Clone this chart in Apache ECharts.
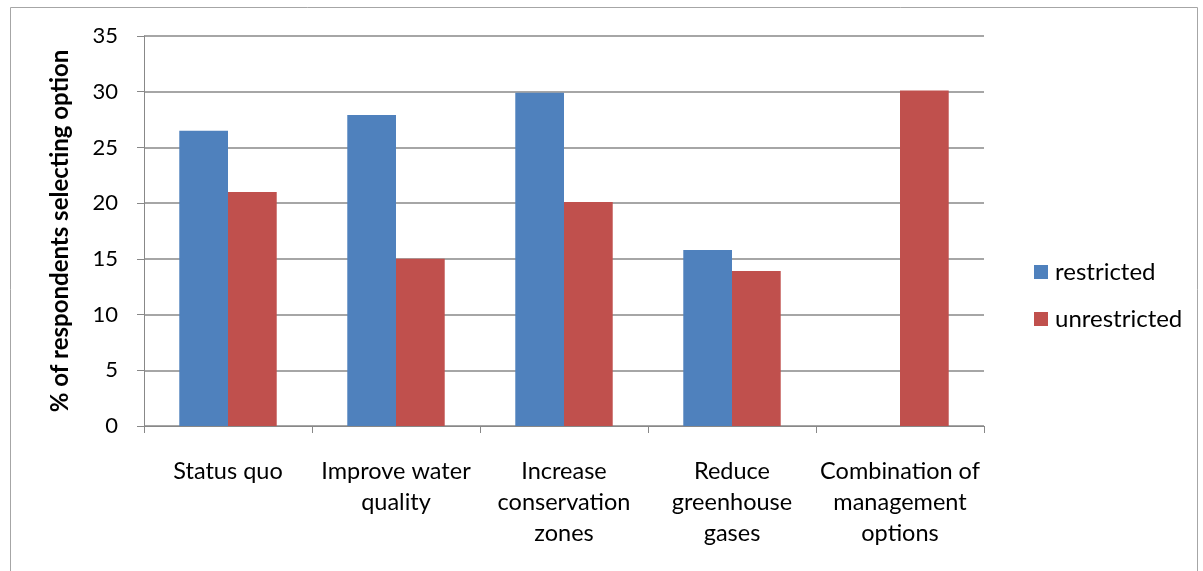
<!DOCTYPE html>
<html>
<head>
<meta charset="utf-8">
<script src="https://cdn.jsdelivr.net/npm/echarts@6/dist/echarts.min.js"></script>
<style>
html,body{margin:0;padding:0;background:#fff;}
#c{width:1203px;height:571px;}
</style>
</head>
<body>
<div id="c"></div>
<script>
var categories = ["Status quo", "Improve water\nquality", "Increase\nconservation\nzones", "Reduce\ngreenhouse\ngases", "Combination of\nmanagement\noptions"];
var restricted = [26.5, 27.9, 29.9, 15.8, 0];
var unrestricted = [21.0, 15.0, 20.1, 13.9, 30.1];
var yTicks = [0, 35, 5];

var chart = echarts.init(document.getElementById('c'));
var font = 'Lato, "Open Sans", sans-serif';
chart.setOption({
  animation: false,
  graphic: [{
    type: 'rect', shape: {x: 10.5, y: 7.5, width: 1187, height: 580},
    style: {fill: 'none', stroke: '#a6a6a6', lineWidth: 1}, silent: true
  }],
  grid: {left: 144, right: 219, top: 36, bottom: 145, containLabel: false},
  legend: {
    orient: 'vertical', left: 1029, top: 255, itemGap: 23,
    itemWidth: 14, itemHeight: 14, icon: 'rect',
    textStyle: {fontFamily: font, fontSize: 24, color: '#000', padding: [0, 0, 0, 2]},
    data: ['restricted', 'unrestricted']
  },
  xAxis: {
    type: 'category', data: categories,
    axisLine: {lineStyle: {color: '#888', width: 1}},
    axisTick: {show: true, length: 7, lineStyle: {color: '#888'}},
    axisLabel: {fontFamily: font, fontSize: 23.5, color: '#000', margin: 30, lineHeight: 31, interval: 0}
  },
  yAxis: {
    type: 'value', min: yTicks[0], max: yTicks[1], interval: yTicks[2],
    name: '% of respondents selecting option', nameLocation: 'middle', nameGap: 72,
    nameTextStyle: {fontFamily: font, fontSize: 24, fontWeight: 'bold', color: '#000'},
    axisLine: {show: true, lineStyle: {color: '#888', width: 1}},
    axisTick: {show: true, length: 7, lineStyle: {color: '#888'}},
    axisLabel: {fontFamily: font, fontSize: 22, color: '#000', margin: 26},
    splitLine: {show: true, lineStyle: {color: '#888', width: 1.5}}
  },
  series: [
    {name: 'restricted', type: 'bar', data: restricted, barGap: '0%', barCategoryGap: '42%',
     itemStyle: {color: '#4f81bd'}},
    {name: 'unrestricted', type: 'bar', data: unrestricted, barGap: '0%', barCategoryGap: '42%',
     itemStyle: {color: '#c0504d'}}
  ]
});
</script>
</body>
</html>
